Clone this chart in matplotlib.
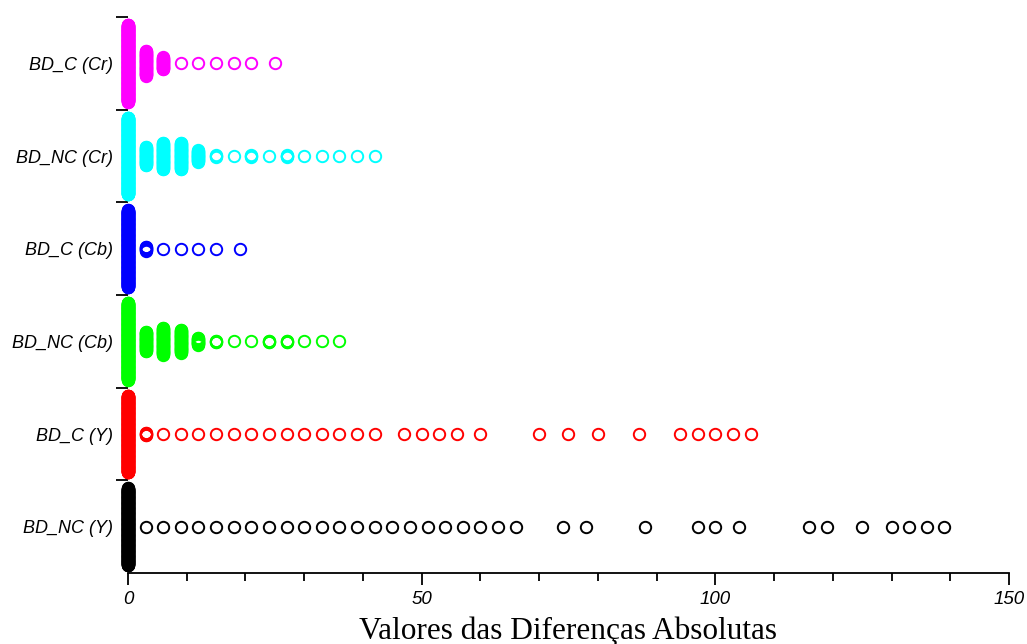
import numpy as np
import matplotlib
matplotlib.use("Agg")
import matplotlib.pyplot as plt
from matplotlib.ticker import FixedLocator, NullFormatter

# categories, bottom to top
labels = ['BD_NC (Y)', 'BD_C (Y)', 'BD_NC (Cb)', 'BD_C (Cb)', 'BD_NC (Cr)', 'BD_C (Cr)']
colors = ['black', '#ff0000', '#00ff00', '#0000ff', '#00ffff', '#ff00ff']

# absolute differences (x) and how many times each one occurs
nc_y_vals = [0, 3, 6, 9, 12, 15, 18, 21, 24, 27, 30, 33, 36, 39, 42, 45, 48, 51, 54, 57,
             60, 63, 66, 74, 78, 88, 97, 100, 104, 116, 119, 125, 130, 133, 136, 139]
nc_y_cnt = [400] + [1] * 35

c_y_vals = [0, 3, 6, 9, 12, 15, 18, 21, 24, 27, 30, 33, 36, 39, 42, 47, 50, 53, 56, 60,
            70, 75, 80, 87, 94, 97, 100, 103, 106]
c_y_cnt = [400, 6] + [1] * 27

nc_cb_vals = [0, 3, 6, 9, 12, 15, 18, 21, 24, 27, 30, 33, 36]
nc_cb_cnt = [400, 43, 59, 50, 16, 4, 1, 1, 4, 4, 1, 1, 1]

c_cb_vals = [0, 3, 6, 9, 12, 15, 19]
c_cb_cnt = [400, 9, 1, 1, 1, 1, 1]

nc_cr_vals = [0, 3, 6, 9, 12, 15, 18, 21, 24, 27, 30, 33, 36, 39, 42]
nc_cr_cnt = [400, 41, 57, 57, 25, 4, 1, 4, 1, 5, 1, 1, 1, 1, 1]

c_cr_vals = [0, 3, 6, 9, 12, 15, 18, 21, 25]
c_cr_cnt = [400, 55, 27, 1, 1, 1, 1, 1, 1]

series = [(nc_y_vals, nc_y_cnt), (c_y_vals, c_y_cnt), (nc_cb_vals, nc_cb_cnt),
          (c_cb_vals, c_cb_cnt), (nc_cr_vals, nc_cr_cnt), (c_cr_vals, c_cr_cnt)]

step = 0.005   # vertical offset between stacked points
cap = 0.415    # half height a column can take inside its band


def stack(xv, cnt, yc):
    """spread repeated values vertically around the band centre"""
    xs = []; ys = []
    for x, n in zip(xv, cnt):
        s = min((n - 1) * step, 2 * cap)
        xs += [x] * n
        ys += list(yc + np.linspace(-s / 2, s / 2, n))
    return xs, ys


fig = plt.figure(figsize=(10.27, 6.44), dpi=100)
ax = fig.add_axes([0.1246, 0.1102, 0.8579, 0.8634])

for i, (xv, cnt) in enumerate(series):
    xs, ys = stack(xv, cnt, i)
    ax.plot(xs, ys, 'o', ls='none', ms=8.2, mfc='none', mec=colors[i], mew=1.4,
            clip_on=False)

ax.set_xlim(0, 150)
ax.set_ylim(-0.5, 5.5)

for s in ['top', 'right', 'left']:
    ax.spines[s].set_visible(False)
ax.spines['bottom'].set_linewidth(1.3)

tick_font = dict(family='Liberation Sans', style='italic', size=13)
xtick_font = dict(family='Liberation Sans', style='italic', size=13.5)

ax.xaxis.set_major_locator(FixedLocator([0, 50, 100, 150]))
ax.xaxis.set_minor_locator(FixedLocator(np.arange(0, 151, 10)))
ax.xaxis.set_minor_formatter(NullFormatter())
ax.set_xticklabels(['0', '50', '100', '150'], fontdict=xtick_font)
ax.tick_params(axis='x', which='major', length=8.6, width=1.3, pad=4)
ax.tick_params(axis='x', which='minor', length=5.8, width=1.3)

# band boundaries get the ticks, band centres get the names
ax.yaxis.set_major_locator(FixedLocator(np.arange(0.5, 5.6, 1.0)))
ax.yaxis.set_major_formatter(NullFormatter())
ax.yaxis.set_minor_locator(FixedLocator(np.arange(0, 6)))
ax.set_yticklabels(labels, minor=True, fontdict=tick_font)
ax.tick_params(axis='y', which='major', length=8.6, width=1.3)
ax.tick_params(axis='y', which='minor', length=0, pad=10.5)

ax.set_xlabel('Valores das Diferenças Absolutas', family='Liberation Serif',
              size=22.5, labelpad=6.5)

fig.savefig('out.png', dpi=100)
